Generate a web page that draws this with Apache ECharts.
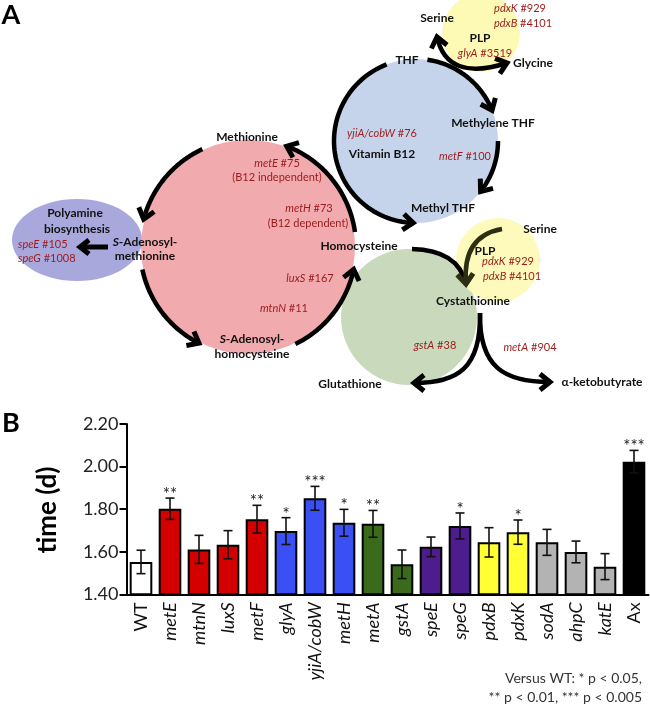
<!DOCTYPE html>
<html>
<head>
<meta charset="utf-8">
<script src="https://cdn.jsdelivr.net/npm/echarts@6/dist/echarts.min.js"></script>
<style>html,body{margin:0;padding:0;background:#fff}#c{width:650px;height:707px}</style>
</head>
<body>
<div id="c"></div>
<script>
// ---------- Data (panel B) ----------
const categories = ['WT','metE','mtnN','luxS','metF','glyA','yjiA/cobW','metH','metA','gstA','speE','speG','pdxB','pdxK','sodA','ahpC','katE','Ax'];
const means = [1.552,1.802,1.611,1.633,1.753,1.697,1.851,1.736,1.731,1.541,1.623,1.721,1.644,1.692,1.644,1.599,1.530,2.023];
const errors = [0.055,0.050,0.066,0.066,0.065,0.063,0.056,0.063,0.063,0.067,0.046,0.061,0.069,0.057,0.061,0.051,0.061,0.053];
const stars = ['','**','','','**','*','***','*','**','','','*','','*','','','','***'];
const yTicks = [1.40,1.60,1.80,2.00,2.20];
const nonItalic = ['WT','Ax'];

// ---------- Styles ----------
const barColors = ['#ffffff','#d40000','#d40000','#d40000','#d40000','#3a50f5','#3a50f5','#3a50f5','#3a6b1b','#3a6b1b','#4d1d8e','#4d1d8e','#ffff33','#ffff33','#b3b3b3','#b3b3b3','#b3b3b3','#000000'];
const FONT = 'Lato, "Open Sans", sans-serif';
const RED = '#9b1b1b';

// ---------- Diagram helpers (panel A, decorative schematic) ----------
const G = [];
const D2R = Math.PI / 180;
function circle(cx, cy, r, fill, op) {
  G.push({type:'circle', shape:{cx, cy, r}, style:{fill, opacity: op == null ? 1 : op}, z:1});
}
function ellipse(cx, cy, rx, ry, fill) {
  G.push({type:'ellipse', shape:{cx, cy, rx, ry}, style:{fill}, z:1});
}
function arrowHead(tip, dir, color, L, W) {
  L = L || 10; W = W || 8;
  const len = Math.hypot(dir[0], dir[1]);
  const ux = dir[0]/len, uy = dir[1]/len;
  const nx = -uy, ny = ux;
  const bx = tip[0] - L*ux, by = tip[1] - L*uy;
  G.push({type:'polyline', shape:{points:[[bx+W*nx, by+W*ny], tip, [bx-W*nx, by-W*ny]]},
    style:{stroke:color||'#000', lineWidth:5, fill:null, lineJoin:'miter', lineCap:'butt'}, z:3});
}
function arc(cx, cy, r, a0, a1, head) {
  const pts = [];
  const n = 60;
  for (let k = 0; k <= n; k++) {
    const a = (a0 + (a1 - a0) * k / n) * D2R;
    pts.push([cx + r*Math.cos(a), cy + r*Math.sin(a)]);
  }
  G.push({type:'polyline', shape:{points:pts}, style:{stroke:'#000', lineWidth:4.5, fill:null}, z:2});
  if (head) {
    const p = pts[n], q = pts[n-3];
    arrowHead(p, [p[0]-q[0], p[1]-q[1]]);
  }
}
function quad(p0, cp, p1, color, headStart, headEnd) {
  G.push({type:'bezierCurve', shape:{x1:p0[0], y1:p0[1], x2:p1[0], y2:p1[1], cpx1:cp[0], cpy1:cp[1]},
    style:{stroke:color||'#000', lineWidth:4.5, fill:null}, z:2});
  if (headEnd) arrowHead(p1, [p1[0]-cp[0], p1[1]-cp[1]], color);
  if (headStart) arrowHead(p0, [p0[0]-cp[0], p0[1]-cp[1]], color);
}
function cubic(p0, c1, c2, p1, head) {
  G.push({type:'bezierCurve', shape:{x1:p0[0], y1:p0[1], x2:p1[0], y2:p1[1], cpx1:c1[0], cpy1:c1[1], cpx2:c2[0], cpy2:c2[1]},
    style:{stroke:'#000', lineWidth:4.5, fill:null}, z:2});
  if (head) arrowHead(p1, [p1[0]-c2[0], p1[1]-c2[1]]);
}
const RICH = {
  b:{fontFamily:FONT, fontSize:12, fontWeight:'bold', fill:'#111'},
  bi:{fontFamily:FONT, fontSize:12, fontWeight:'bold', fontStyle:'italic', fill:'#111'},
  i:{fontFamily:FONT, fontSize:11, fontStyle:'italic', fill:RED},
  n:{fontFamily:FONT, fontSize:11, fill:RED}
};
function txt(x, y, text, align) {
  G.push({type:'text', x, y, z:5, style:{text, rich:RICH, align: align||'center', verticalAlign:'middle',
    fontFamily:FONT, fontSize:12}});
}
function label(x, y, s) { txt(x, y, '{b|' + s + '}'); }
function gene(x, y, g, num, align) { txt(x, y, '{i|' + g + '}{n| ' + num + '}', align); }
function note(x, y, s) { txt(x, y, '{n|' + s + '}'); }

// fills
ellipse(77, 240, 65, 41, '#a9a8dd');
circle(248, 247, 107, '#f1aaae');
circle(416, 141, 82, '#c6d4eb');
circle(481, 33, 39, '#fdfab6');
circle(409, 317, 68, '#c8dabb');
circle(498, 260, 42, '#fdfab6', 0.92);

// pink cycle
arc(248, 247, 108, -115, -165, true);
arc(248, 247, 108, 168, 117, true);
arc(248, 247, 108, 64, 12, true);
arc(248, 247, 108, -8, -69, true);
// blue cycle
arc(416, 141, 82, -82, -22, true);
arc(416, 141, 82, 0, 38, true);
arc(416, 141, 82, 249, 92, true);
// serine/glycine
quad([437, 37], [447, 82], [507, 63], '#000', true, true);
// homocysteine -> cystathionine, serine -> cystathionine
quad([412, 249], [458, 250], [466, 284], '#000', false, false);
quad([502, 229], [462, 236], [466, 284], '#2e2e12', false, true);
// cystathionine branches
cubic([480, 313], [481, 368], [458, 383], [414, 383], true);
cubic([480, 313], [479, 368], [505, 382], [550, 382], true);
// SAM -> polyamine
G.push({type:'line', shape:{x1:108, y1:247, x2:84, y2:247}, style:{stroke:'#000', lineWidth:5}, z:2});
arrowHead([80, 247], [-1, 0], '#000', 9, 7);

// labels
G.push({type:'text', x:11, y:15, z:5, style:{text:'A', fontFamily:FONT, fontWeight:'bold', fontSize:27, fill:'#000', align:'center', verticalAlign:'middle'}});
G.push({type:'text', x:11, y:423, z:5, style:{text:'B', fontFamily:FONT, fontWeight:'bold', fontSize:27, fill:'#000', align:'center', verticalAlign:'middle'}});
label(247, 137, 'Methionine');
txt(145, 242, '{bi|S}{b|-Adenosyl-}');
label(145, 256, 'methionine');
txt(252, 339, '{bi|S}{b|-Adenosyl-}');
label(252, 354, 'homocysteine');
label(359, 246, 'Homocysteine');
label(407, 60, 'THF');
label(493, 123, 'Methylene THF');
label(443, 208, 'Methyl THF');
label(382, 154, 'Vitamin B12');
label(437, 18, 'Serine');
label(480, 38, 'PLP');
label(533, 63, 'Glycine');
label(540, 229, 'Serine');
label(485, 251, 'PLP');
label(473, 301, 'Cystathionine');
label(350, 384, 'Glutathione');
label(602, 382, 'α-ketobutyrate');
label(75, 213, 'Polyamine');
label(77, 229, 'biosynthesis');

gene(277, 163, 'metE', '#75'); note(277, 177, '(B12 independent)');
gene(309, 208, 'metH', '#73'); note(308, 223, '(B12 dependent)');
gene(310, 278, 'luxS', '#167');
gene(284, 308, 'mtnN', '#11');
gene(382, 133, 'yjiA/cobW', '#76');
gene(465, 156, 'metF', '#100');
gene(485, 53, 'glyA', '#3519');
gene(520, 8, 'pdxK', '#929');
gene(523, 23, 'pdxB', '#4101');
gene(508, 261, 'pdxK', '#929');
gene(512, 276, 'pdxB', '#4101');
gene(435, 345, 'gstA', '#38');
gene(530, 347, 'metA', '#904');
gene(18, 244, 'speE', '#105', 'left');
gene(18, 258, 'speG', '#1008', 'left');

// footnote
G.push({type:'text', x:642, y:678, z:5, style:{text:'Versus WT: * p < 0.05,', fontFamily:FONT, fontSize:14, fill:'#333', align:'right', verticalAlign:'middle'}});
G.push({type:'text', x:642, y:697, z:5, style:{text:'** p < 0.01, *** p < 0.005', fontFamily:FONT, fontSize:14, fill:'#333', align:'right', verticalAlign:'middle'}});
// y axis title
G.push({type:'text', x:48, y:510, rotation:Math.PI/2, z:5, style:{text:'time (d)', fontFamily:FONT, fontWeight:'bold', fontSize:26, fill:'#000', align:'center', verticalAlign:'middle'}});

// ---------- Chart ----------
const chart = echarts.init(document.getElementById('c'), null, {renderer:'canvas'});
chart.setOption({
  animation:false,
  backgroundColor:'#fff',
  textStyle:{fontFamily:FONT},
  grid:{left:126.5, right:1.5, top:424, bottom:112.7, containLabel:false},
  xAxis:{
    type:'category', data:categories,
    axisLine:{lineStyle:{color:'#000', width:2}},
    axisTick:{show:false},
    axisLabel:{
      rotate:90, margin:8, interval:0,
      formatter:(v)=> nonItalic.includes(v) ? '{n|' + v + '}' : '{i|' + v + '}',
      rich:{
        n:{fontFamily:FONT, fontSize:18, color:'#111'},
        i:{fontFamily:FONT, fontSize:18, fontStyle:'italic', color:'#111'}
      }
    }
  },
  yAxis:{
    type:'value', min:yTicks[0], max:yTicks[yTicks.length-1], interval:0.2,
    axisLine:{show:true, lineStyle:{color:'#000', width:2}},
    axisTick:{show:true, length:7, lineStyle:{color:'#000', width:2}},
    splitLine:{show:false},
    axisLabel:{fontSize:18, color:'#222', margin:8, formatter:(v)=>v.toFixed(2)}
  },
  series:[
    {
      type:'bar', barCategoryGap:'22%',
      data: means.map((m,i)=>({value:m, itemStyle:{color:barColors[i]}})),
      itemStyle:{borderColor:'#000', borderWidth:2},
      z:2
    },
    {
      type:'custom',
      data: categories.map((c,i)=>[i, means[i], errors[i]]),
      encode:{x:0, y:1},
      z:5,
      renderItem:(params, api)=>{
        const i = api.value(0), m = api.value(1), e = api.value(2);
        const top = api.coord([i, m + e]);
        const bot = api.coord([i, m - e]);
        const w = 4.5;
        const st = {stroke:'#111', lineWidth:1.6};
        const children = [
          {type:'line', shape:{x1:top[0], y1:top[1], x2:bot[0], y2:bot[1]}, style:st},
          {type:'line', shape:{x1:top[0]-w, y1:top[1], x2:top[0]+w, y2:top[1]}, style:st},
          {type:'line', shape:{x1:bot[0]-w, y1:bot[1], x2:bot[0]+w, y2:bot[1]}, style:st}
        ];
        if (stars[i]) {
          children.push({type:'text', x:top[0], y:top[1]+5, style:{text:stars[i], fontFamily:FONT, fontSize:17, fill:'#222', align:'center', verticalAlign:'bottom'}});
        }
        return {type:'group', children};
      }
    }
  ],
  graphic: G
});
</script>
</body>
</html>
